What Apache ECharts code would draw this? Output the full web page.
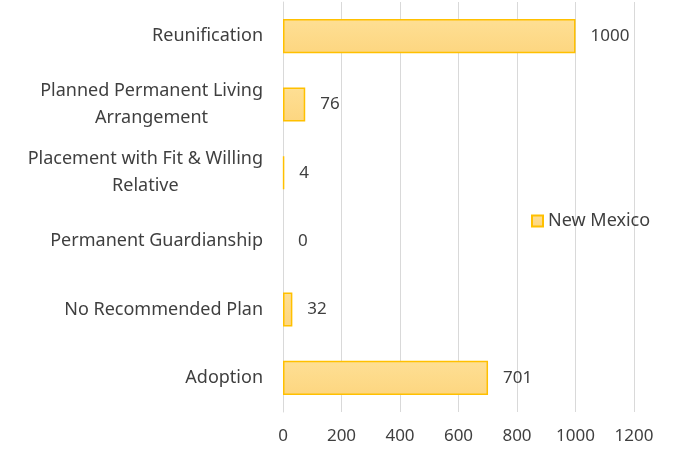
<!DOCTYPE html>
<html>
<head>
    <meta charset="UTF-8"/>
    <title>New Mexico</title>
    <script src="https://cdn.jsdelivr.net/npm/echarts@6/dist/echarts.min.js"></script>
    <style>
        html, body { margin: 0; padding: 0; background: #fff; }
        #chart { width: 675px; height: 452px; }
    </style>
</head>
<body>
<div id="chart"></div>
<script>
    // categories bottom -> top, as the axis draws them
    var categories = [
        'Adoption',
        'No Recommended Plan',
        'Permanent Guardianship',
        'Placement with Fit & Willing\nRelative',
        'Planned Permanent Living\nArrangement',
        'Reunification'
    ];
    var newMexico = [701, 32, 0, 4, 76, 1000];
    var xTicks = [0, 200, 400, 600, 800, 1000, 1200];

    var font = 'Noto Sans';
    var txt = '#3f3f3f';
    var chart = echarts.init(document.getElementById('chart'));
    chart.setOption({
        animation: false,
        textStyle: { fontFamily: font },
        grid: { left: 283, right: 41, top: 2, bottom: 40, containLabel: false },
        legend: {
            left: 526, top: 207,
            itemWidth: 11, itemHeight: 11,
            itemGap: 5,
            textStyle: { fontSize: 18, color: txt, fontFamily: font },
            data: [{ name: 'New Mexico', icon: 'rect' }]
        },
        xAxis: {
            type: 'value',
            min: xTicks[0], max: xTicks[xTicks.length - 1], interval: 200,
            axisLine: { show: false },
            axisTick: { show: false },
            axisLabel: {
                fontSize: 17, color: txt, margin: 16,
                formatter: function (v) { return String(v); }
            },
            splitLine: { lineStyle: { color: '#d9d9d9', width: 1 } }
        },
        yAxis: {
            type: 'category',
            data: categories,
            axisLine: { show: true, lineStyle: { color: '#d9d9d9' } },
            axisTick: { show: false },
            axisLabel: {
                fontSize: 18, color: txt, margin: 20, lineHeight: 27,
                formatter: function (v) {
                    return v.split('\n').map(function (s) { return '{c|' + s + '}'; }).join('\n');
                },
                rich: { c: { align: 'center', fontSize: 18, color: txt, lineHeight: 27, fontFamily: font } }
            }
        },
        series: [{
            name: 'New Mexico',
            type: 'bar',
            data: newMexico.map(function (v) {
                return v === 0 ? { value: v, itemStyle: { borderWidth: 0 } } : v;
            }),
            barCategoryGap: '50%',
            itemStyle: {
                color: new echarts.graphic.LinearGradient(0, 0, 0, 1, [
                    { offset: 0, color: '#fedf94' },
                    { offset: 1, color: '#fdd680' }
                ]),
                borderColor: '#ffc000',
                borderWidth: 1.5
            },
            label: {
                show: true, position: 'right', distance: 15,
                fontSize: 17, color: txt
            }
        }]
    });
</script>
</body>
</html>
